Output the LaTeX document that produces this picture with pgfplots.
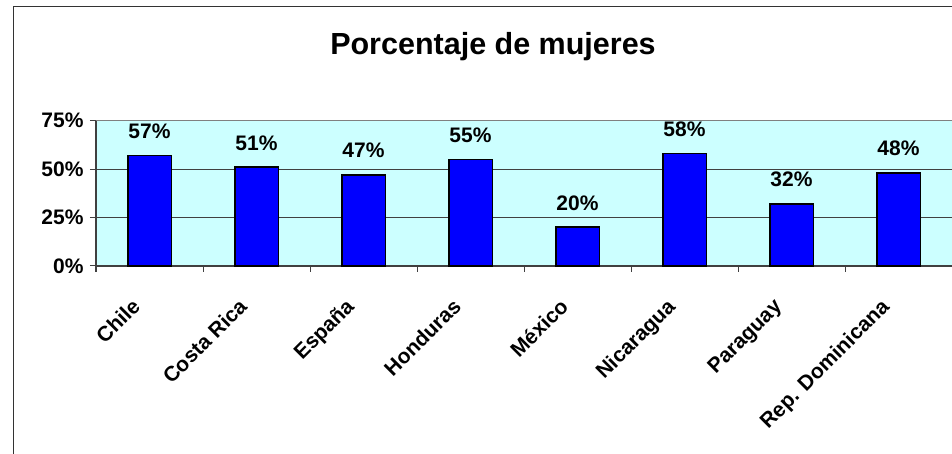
\documentclass[border=0pt]{standalone}
\usepackage{fontspec}
\setmainfont{Liberation Sans}
\usepackage{pgfplots}
\pgfplotsset{compat=1.18}
\definecolor{plotbg}{HTML}{CCFFFF}
\definecolor{barblue}{HTML}{0000FF}
\definecolor{axgray}{HTML}{404040}
\definecolor{topgray}{HTML}{808080}
\begin{document}
\begin{tikzpicture}[x=1pt,y=1pt]
\begin{axis}[
  at={(0,0)}, anchor=south west,
  scale only axis, width=856pt, height=145.5pt,
  xmin=-0.5, xmax=7.5, ymin=0, ymax=75,
  axis background/.style={fill=plotbg},
  axis lines*=left,
  axis line style={axgray, line width=1pt},
  ybar, bar width=43.5pt, bar shift=0pt,
  xtick={0,...,7},
  xticklabels={Chile, Costa Rica, España, Honduras, México, Nicaragua, Paraguay, Rep. Dominicana},
  minor xtick={-0.5,0.5,...,7.5},
  ytick={0,25,50,75}, minor ytick={0,25,50,75},
  yticklabel={\pgfmathprintnumber{\tick}\%},
  /pgf/number format/assume math mode=true,
  major tick length=0pt, minor tick length=6pt, tick align=outside,
  tick style={axgray, line width=1pt},
  ymajorgrids, major grid style={axgray, line width=0.8pt},
  ticklabel style={font=\fontsize{21}{24}\selectfont\bfseries},
  yticklabel style={xshift=-9pt},
  xticklabel style={xshift=-19pt, yshift=-31pt, rotate=45, anchor=north east, inner sep=0pt},
  nodes near coords={\pgfmathprintnumber{\pgfplotspointmeta}\%},
  every node near coord/.append style={font=\fontsize{21}{24}\selectfont\bfseries, anchor=south, inner sep=0pt, yshift=16pt},
  clip=false,
]
\addplot[fill=barblue, draw=black, line width=1.5pt] coordinates {
  (0,57) (1,51) (2,47) (3,55) (4,20) (5,58) (6,32) (7,48)
};
\draw[topgray, line width=1pt] (rel axis cs:0,1) -- (rel axis cs:1,1);
\end{axis}
\node[font=\fontsize{30.5}{34}\selectfont\bfseries, anchor=base] at (397pt,211pt) {Porcentaje de mujeres};
\draw[black!80, line width=1pt] (-82pt,-190pt) -- (-82pt,259pt) -- (860pt,259pt);
\pgfresetboundingbox
\useasboundingbox (-96pt,-188pt) rectangle (856pt,266pt);
\end{tikzpicture}
\end{document}
